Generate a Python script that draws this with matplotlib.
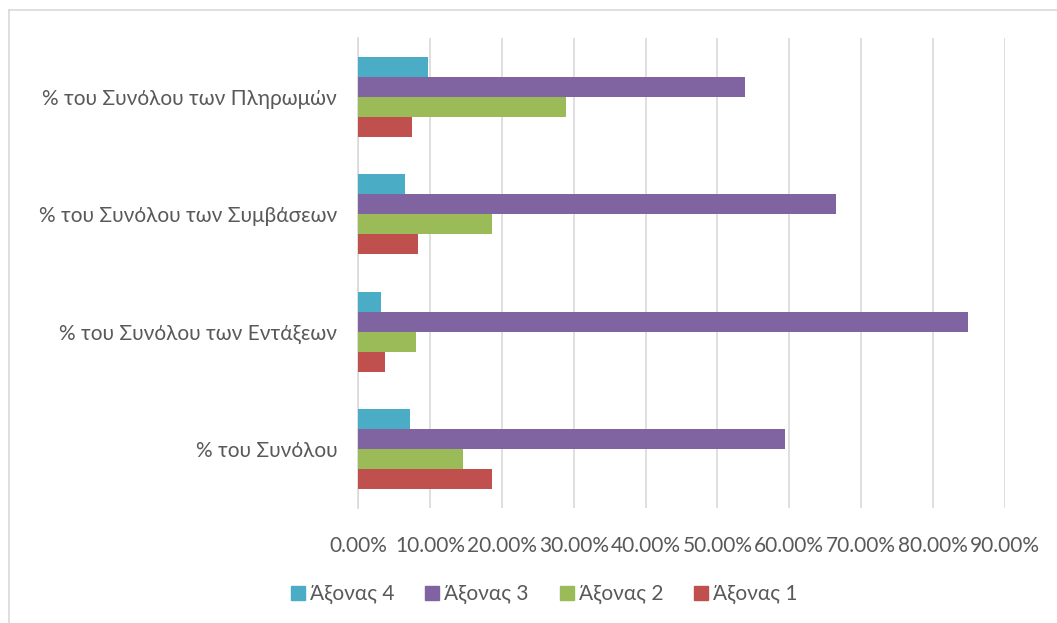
import numpy as np
import matplotlib
matplotlib.use("Agg")
import matplotlib.pyplot as plt
from matplotlib.patches import Patch
from matplotlib.lines import Line2D
from matplotlib.ticker import FuncFormatter, MultipleLocator

# categories, bottom to top as drawn
categories = ["% του Συνόλου", "% του Συνόλου των Εντάξεων",
              "% του Συνόλου των Συμβάσεων", "% του Συνόλου των Πληρωμών"]
axonas_1 = [0.187, 0.038, 0.083, 0.075]
axonas_2 = [0.146, 0.081, 0.186, 0.290]
axonas_3 = [0.594, 0.849, 0.665, 0.538]
axonas_4 = [0.072, 0.032, 0.066, 0.097]
series_names = ["Άξονας 4", "Άξονας 3", "Άξονας 2", "Άξονας 1"]
series_values = [axonas_4, axonas_3, axonas_2, axonas_1]
colors = ["#4BACC6", "#8064A2", "#9BBB59", "#C0504D"]

plt.rcParams['font.family'] = ['Lato', 'Open Sans', 'DejaVu Sans']
text_col = "#595959"
grid_col = "#D9D9D9"

fig = plt.figure(figsize=[10.57, 6.23], dpi=100)
ax = fig.add_axes([358/1057, 1-508/623, (1005-358)/1057, (508-38)/623])

y = np.arange(len(categories))
h = 0.17
offsets = [1.5*h, 0.5*h, -0.5*h, -1.5*h]
for name, vals, col, off in zip(series_names, series_values, colors, offsets):
    ax.barh(y + off, vals, height=h, color=col, label=name, zorder=3)

ax.set_xlim(0, 0.9)
ax.set_ylim(-0.5, len(categories) - 0.5)
ax.xaxis.set_major_locator(MultipleLocator(0.1))
ax.xaxis.set_major_formatter(FuncFormatter(lambda v, p: "%.2f%%" % (v*100)))
ax.set_yticks(y)
ax.set_yticklabels(categories)
ax.tick_params(axis='both', length=0, colors=text_col, labelsize=15)
ax.tick_params(axis='x', pad=20)
ax.tick_params(axis='y', pad=15)
ax.grid(axis='x', color=grid_col, linewidth=1.2, zorder=0)
for s in ['top', 'right', 'bottom']:
    ax.spines[s].set_visible(False)
ax.spines['left'].set_color(grid_col)
ax.spines['left'].set_linewidth(1.2)

handles = [Patch(color=c) for c in colors]
fig.legend(handles, series_names, loc='center', bbox_to_anchor=(0.515, 1-594/623),
           ncol=4, frameon=False, fontsize=15, labelcolor=text_col,
           handlelength=0.65, handleheight=0.65, handletextpad=0.25,
           columnspacing=1.5)

# outer chart border (left and top visible in the reference)
fig.add_artist(Line2D([8.5/1057, 8.5/1057], [0, 1-9.5/623], transform=fig.transFigure,
                      color=grid_col, linewidth=1.2))
fig.add_artist(Line2D([8.5/1057, 1], [1-9.5/623, 1-9.5/623], transform=fig.transFigure,
                      color=grid_col, linewidth=1.2))

fig.savefig("out.png", dpi=100)
